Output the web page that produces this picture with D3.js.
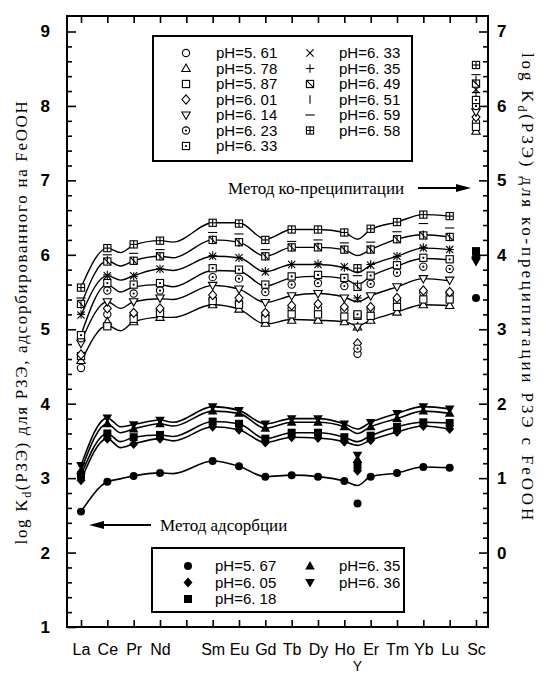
<!DOCTYPE html>
<html>
<head>
<meta charset="utf-8">
<script src="https://cdn.jsdelivr.net/npm/d3@7"></script>
<style>
  body { margin: 0; background: #fff; }
  svg { display: block; }
</style>
</head>
<body>
<svg id="chart" width="546" height="673"></svg>
<script>
// x axis: one tick per element, Pm has a tick but no label/data
const elements = ["La","Ce","Pr","Nd","Pm","Sm","Eu","Gd","Tb","Dy","Ho","Er","Tm","Yb","Lu","Sc"];
const elementLabels = ["La","Ce","Pr","Nd","","Sm","Eu","Gd","Tb","Dy","Ho","Er","Tm","Yb","Lu","Sc"];
// measured samples, Y sits half way between Ho and Er
const samples = ["La","Ce","Pr","Nd","Sm","Eu","Gd","Tb","Dy","Ho","Y","Er","Tm","Yb","Lu","Sc"];

const leftTicks = [1,2,3,4,5,6,7,8,9];
const rightTicks = [0,1,2,3,4,5,6,7];

// co-precipitation, log Kd on the right axis (open symbols)
const cop561 = [2.48,3.20,3.18,3.24,3.40,3.36,3.18,3.28,3.28,3.26,2.67,3.27,3.38,3.49,3.48,5.78];
const cop578 = [2.58,3.10,3.10,3.16,3.33,3.27,3.08,3.12,3.12,3.10,3.03,3.12,3.23,3.33,3.32,5.66];
const cop587 = [2.64,3.04,3.14,3.22,3.38,3.33,3.14,3.20,3.20,3.17,3.18,3.18,3.30,3.40,3.40,5.72];
const cop601 = [2.66,3.28,3.22,3.28,3.46,3.42,3.22,3.32,3.34,3.30,2.81,3.30,3.42,3.52,3.50,5.85];
const cop614 = [2.81,3.37,3.37,3.42,3.59,3.54,3.36,3.45,3.48,3.42,3.03,3.45,3.57,3.68,3.66,5.92];
const cop623 = [2.88,3.52,3.48,3.52,3.70,3.68,3.50,3.60,3.62,3.58,2.74,3.61,3.76,3.84,3.81,6.00];
const cop633a = [2.92,3.62,3.60,3.62,3.82,3.80,3.60,3.71,3.73,3.69,3.20,3.72,3.86,3.96,3.94,6.08];
const cop633b = [3.19,3.72,3.72,3.81,3.98,3.96,3.77,3.87,3.87,3.84,3.41,3.86,3.98,4.09,4.07,6.22];
const cop635 = [3.20,3.73,3.71,3.81,3.99,3.96,3.78,3.87,3.88,3.83,3.42,3.87,3.98,4.10,4.07,6.18];
const cop649 = [3.34,3.91,3.92,3.98,4.20,4.17,3.98,4.10,4.10,4.07,3.57,4.07,4.21,4.26,4.24,6.30];
const cop651 = [3.33,3.93,3.92,3.98,4.20,4.16,3.98,4.10,4.11,4.07,3.60,4.08,4.21,4.27,4.24,6.35];
const cop659 = [3.42,4.00,4.02,4.07,4.30,4.28,4.07,4.18,4.20,4.16,3.72,4.17,4.31,4.42,4.36,6.42];
const cop658 = [3.56,4.09,4.14,4.19,4.43,4.42,4.20,4.34,4.34,4.30,3.82,4.35,4.44,4.54,4.52,6.55];

// adsorption, log Kd on the left axis (filled symbols)
const ads567 = [2.55,2.95,3.03,3.07,3.23,3.16,3.02,3.04,3.02,2.96,2.66,3.02,3.07,3.15,3.14,5.42];
const ads605 = [2.97,3.53,3.46,3.53,3.69,3.65,3.48,3.55,3.54,3.49,3.10,3.51,3.62,3.70,3.66,5.97];
const ads618 = [3.04,3.60,3.55,3.58,3.76,3.73,3.53,3.61,3.61,3.55,3.17,3.57,3.69,3.75,3.74,6.05];
const ads635 = [3.10,3.73,3.66,3.73,3.90,3.87,3.67,3.75,3.75,3.69,3.25,3.69,3.80,3.90,3.87,6.01];
const ads636 = [3.17,3.81,3.72,3.78,3.96,3.91,3.73,3.80,3.80,3.73,3.31,3.75,3.87,3.96,3.93,5.91];

// hand drawn trend curves at these element positions
const curveAt = [0,1,1.5,2,3,3.5,5,6,7,8,9,10,10.5,11,12,13,14];
const copCurve1 = [2.56,3.05,2.98,3.10,3.16,3.16,3.33,3.27,3.07,3.13,3.12,3.10,3.05,3.12,3.23,3.33,3.32];
const copCurve2 = [2.83,3.37,3.28,3.37,3.41,3.40,3.59,3.54,3.36,3.45,3.48,3.43,3.37,3.45,3.57,3.68,3.65];
const copCurve3 = [2.92,3.60,3.50,3.57,3.60,3.57,3.79,3.78,3.58,3.69,3.71,3.68,3.60,3.71,3.85,3.95,3.93];
const copCurve4 = [3.19,3.72,3.66,3.72,3.81,3.79,3.98,3.96,3.77,3.87,3.87,3.83,3.76,3.86,3.98,4.09,4.07];
const copCurve5 = [3.33,3.92,3.85,3.92,3.98,3.96,4.20,4.17,3.98,4.10,4.10,4.07,3.99,4.07,4.21,4.27,4.24];
const copCurve6 = [3.56,4.09,4.03,4.13,4.19,4.17,4.43,4.43,4.21,4.34,4.34,4.30,4.21,4.34,4.44,4.54,4.52];
const adsCurve567 = [2.55,2.95,2.99,3.03,3.07,3.06,3.23,3.16,3.02,3.04,3.02,2.96,2.90,3.02,3.07,3.15,3.14];
const adsCurve605 = [2.97,3.53,3.41,3.46,3.53,3.50,3.69,3.65,3.48,3.55,3.54,3.49,3.44,3.51,3.62,3.70,3.66];
const adsCurve618 = [3.04,3.60,3.49,3.55,3.58,3.56,3.76,3.73,3.53,3.61,3.61,3.55,3.49,3.57,3.69,3.75,3.74];
const adsCurve635 = [3.10,3.73,3.61,3.66,3.73,3.70,3.90,3.87,3.67,3.75,3.75,3.69,3.60,3.69,3.80,3.90,3.87];
const adsCurve636 = [3.17,3.81,3.69,3.72,3.78,3.75,3.96,3.91,3.73,3.80,3.80,3.73,3.66,3.75,3.87,3.96,3.93];

const copSeries = [
  {label: "pH=5. 61", sym: "circle", values: cop561},
  {label: "pH=5. 78", sym: "triangle", values: cop578},
  {label: "pH=5. 87", sym: "square", values: cop587},
  {label: "pH=6. 01", sym: "diamond", values: cop601},
  {label: "pH=6. 14", sym: "triangleDown", values: cop614},
  {label: "pH=6. 23", sym: "circleDot", values: cop623},
  {label: "pH=6. 33", sym: "squareDot", values: cop633a},
  {label: "pH=6. 33", sym: "cross", values: cop633b},
  {label: "pH=6. 35", sym: "plus", values: cop635},
  {label: "pH=6. 49", sym: "squareSlash", values: cop649},
  {label: "pH=6. 51", sym: "vbar", values: cop651},
  {label: "pH=6. 59", sym: "hbar", values: cop659},
  {label: "pH=6. 58", sym: "squarePlus", values: cop658}
];
const adsSeries = [
  {label: "pH=5. 67", sym: "circleF", values: ads567, curve: adsCurve567},
  {label: "pH=6. 05", sym: "diamondF", values: ads605, curve: adsCurve605},
  {label: "pH=6. 18", sym: "squareF", values: ads618, curve: adsCurve618},
  {label: "pH=6. 35", sym: "triangleF", values: ads635, curve: adsCurve635},
  {label: "pH=6. 36", sym: "triangleDownF", values: ads636, curve: adsCurve636}
];
const copCurves = [copCurve1, copCurve2, copCurve3, copCurve4, copCurve5, copCurve6];

const svg = d3.select("#chart");
const frame = {left: 67, right: 488, top: 16, bottom: 627};

const x = d3.scaleLinear().domain([0, 15]).range([81, 476]);
const yL = d3.scaleLinear().domain([1, 9]).range([627, 31.5]);
const yR = d3.scaleLinear().domain([-1, 7]).range([627, 31.5]);

function pos(name) { return name === "Y" ? 10.5 : elements.indexOf(name); }

function drawSymbol(g, type) {
  const s = 3.6;
  const ln = (x1, y1, x2, y2) => g.append("line")
    .attr("x1", x1).attr("y1", y1).attr("x2", x2).attr("y2", y2)
    .attr("stroke", "#000").attr("stroke-width", 1.1);
  const box = () => g.append("rect").attr("x", -s).attr("y", -s)
    .attr("width", 2 * s).attr("height", 2 * s)
    .attr("fill", "#fff").attr("stroke", "#000").attr("stroke-width", 1.1);
  const open = (d) => g.append("path").attr("d", d)
    .attr("fill", "#fff").attr("stroke", "#000").attr("stroke-width", 1.1);
  const solid = (d) => g.append("path").attr("d", d).attr("fill", "#000");
  switch (type) {
    case "circle": open(d3.symbol(d3.symbolCircle, 42)()); break;
    case "circleDot":
      open(d3.symbol(d3.symbolCircle, 42)());
      g.append("circle").attr("r", 1.1).attr("fill", "#000"); break;
    case "triangle": open("M0,-4.4L4.2,3L-4.2,3Z"); break;
    case "triangleDown": open("M0,4.4L4.2,-3L-4.2,-3Z"); break;
    case "diamond": open("M0,-4.6L4,0L0,4.6L-4,0Z"); break;
    case "square": box(); break;
    case "squareDot": box(); g.append("circle").attr("r", 1.1).attr("fill", "#000"); break;
    case "squareSlash": box(); ln(-s, -s, s, s); break;
    case "squarePlus": box(); ln(-s, 0, s, 0); ln(0, -s, 0, s); break;
    case "cross": ln(-3.6, -3.6, 3.6, 3.6); ln(-3.6, 3.6, 3.6, -3.6); break;
    case "plus": ln(-4.2, 0, 4.2, 0); ln(0, -4.2, 0, 4.2); break;
    case "vbar": ln(0, -4.2, 0, 4.2); break;
    case "hbar": ln(-4.6, 0, 4.6, 0); break;
    case "circleF": solid(d3.symbol(d3.symbolCircle, 50)()); break;
    case "diamondF": solid("M0,-5L4.5,0L0,5L-4.5,0Z"); break;
    case "squareF": solid("M-4,-4H4V4H-4Z"); break;
    case "triangleF": solid("M0,-5L4.8,3.4L-4.8,3.4Z"); break;
    case "triangleDownF": solid("M0,5L4.8,-3.4L-4.8,-3.4Z"); break;
  }
}

// --- axes ---------------------------------------------------------------
const tickFont = "'Liberation Sans', Arial, sans-serif";

function styleAxis(g) {
  g.select(".domain").remove();
  g.selectAll(".tick line").attr("stroke", "#000").attr("stroke-width", 1.6);
  g.selectAll(".tick text").attr("fill", "#000")
    .style("font-family", tickFont).style("font-size", "17px").style("font-weight", "bold");
}

const minorL = d3.range(10, 92, 2).map(v => v / 10).filter(v => v % 1 !== 0);

svg.append("g").attr("transform", `translate(${frame.left},0)`)
  .call(d3.axisLeft(yL).tickValues(minorL).tickSize(-5).tickFormat(""))
  .call(styleAxis);
svg.append("g").attr("transform", `translate(${frame.left},0)`)
  .call(d3.axisLeft(yL).tickValues(leftTicks).tickSize(-9).tickPadding(17).tickFormat(d3.format("d")))
  .call(styleAxis);

const minorR = minorL.map(v => v - 2);
svg.append("g").attr("transform", `translate(${frame.right},0)`)
  .call(d3.axisRight(yR).tickValues(minorR).tickSize(-5).tickFormat(""))
  .call(styleAxis);
svg.append("g").attr("transform", `translate(${frame.right},0)`)
  .call(d3.axisRight(yR).tickValues(rightTicks).tickSize(-9).tickPadding(9).tickFormat(d3.format("d")))
  .call(styleAxis);

svg.append("g").attr("transform", `translate(0,${frame.bottom})`)
  .call(d3.axisBottom(x).tickValues(d3.range(elements.length)).tickSize(-7).tickPadding(17)
    .tickFormat(i => elementLabels[i]))
  .call(styleAxis)
  .call(g => g.selectAll(".tick text").style("font-weight", "normal").style("font-size", "16px"));

svg.append("g").attr("transform", `translate(0,${frame.top})`)
  .call(d3.axisTop(x).tickValues(d3.range(elements.length)).tickSize(-7).tickFormat(""))
  .call(styleAxis);

svg.append("text")
  .attr("x", x(pos("Y"))).attr("y", 671)
  .attr("text-anchor", "middle")
  .style("font-family", tickFont).style("font-size", "14px")
  .text("Y");

svg.append("rect")
  .attr("x", frame.left).attr("y", frame.top)
  .attr("width", frame.right - frame.left).attr("height", frame.bottom - frame.top)
  .attr("fill", "none").attr("stroke", "#000").attr("stroke-width", 2);

// axis titles (Cyrillic in the original is set wide, so stretch to the measured span)
const serif = "'Liberation Serif', 'Times New Roman', serif";
function axisTitle(tx, ty, rot, rest, span) {
  const t = svg.append("text")
    .attr("transform", `translate(${tx},${ty}) rotate(${rot})`)
    .attr("text-anchor", "middle")
    .style("font-family", serif).style("font-size", "17px");
  t.append("tspan").text("log K");
  t.append("tspan").attr("dy", 4).style("font-size", "12px").text("d");
  t.append("tspan").attr("dy", -4).text(rest);
  const natural = t.node().getComputedTextLength();
  const chars = ("log Kd" + rest).length;
  t.style("letter-spacing", ((span - natural) / chars) + "px");
}
axisTitle(27, 322, -90, "(РЗЭ) для РЗЭ, адсорбированного на FeOOH", 445);
axisTitle(522, 288, 90, "(РЗЭ) для ко-преципитации РЗЭ с FeOOH", 470);

// --- curves -------------------------------------------------------------
const lineR = d3.line().x((d, i) => x(curveAt[i])).y(d => yR(d)).curve(d3.curveMonotoneX);
const lineL = d3.line().x((d, i) => x(curveAt[i])).y(d => yL(d)).curve(d3.curveMonotoneX);

svg.append("g").selectAll("path").data(copCurves).join("path")
  .attr("d", lineR).attr("fill", "none").attr("stroke", "#000").attr("stroke-width", 1.4);
svg.append("g").selectAll("path").data(adsSeries).join("path")
  .attr("d", s => lineL(s.curve)).attr("fill", "none").attr("stroke", "#000").attr("stroke-width", 1.6);

// --- points -------------------------------------------------------------
function plotPoints(series, yScale) {
  series.forEach(s => {
    svg.append("g").selectAll("g").data(s.values).join("g")
      .attr("transform", (v, i) => `translate(${x(pos(samples[i]))},${yScale(v)})`)
      .each(function () { drawSymbol(d3.select(this), s.sym); });
  });
}
plotPoints(copSeries, yR);
plotPoints(adsSeries, yL);

// --- annotations --------------------------------------------------------
function arrow(x1, x2, yy) {
  const dir = Math.sign(x2 - x1);
  svg.append("line").attr("x1", x1).attr("x2", x2 - dir * 12).attr("y1", yy).attr("y2", yy)
    .attr("stroke", "#000").attr("stroke-width", 2);
  svg.append("path")
    .attr("d", `M${x2},${yy}L${x2 - dir * 15},${yy - 4}L${x2 - dir * 15},${yy + 4}Z`)
    .attr("fill", "#000");
}
svg.append("text").attr("x", 228).attr("y", 194)
  .style("font-family", serif).style("font-size", "17px").text("Метод ко-преципитации");
arrow(418, 471, 188);
svg.append("text").attr("x", 160).attr("y", 531)
  .style("font-family", serif).style("font-size", "17px").text("Метод адсорбции");
arrow(151, 89, 525);

// --- legends ------------------------------------------------------------
function legend(series, box, rowsPerCol, rowH, firstRow, cols) {
  svg.append("rect").attr("x", box.x).attr("y", box.y).attr("width", box.w).attr("height", box.h)
    .attr("fill", "#fff").attr("stroke", "#000").attr("stroke-width", 2);
  series.forEach((s, i) => {
    const c = i < rowsPerCol ? 0 : 1;
    const r = c === 0 ? i : i - rowsPerCol;
    const yy = firstRow + r * rowH;
    const g = svg.append("g").attr("transform", `translate(${cols[c].sym},${yy})`);
    drawSymbol(g, s.sym);
    svg.append("text").attr("x", cols[c].text).attr("y", yy).attr("dy", "0.36em")
      .style("font-family", tickFont).style("font-size", "15px").text(s.label);
  });
}
legend(copSeries, {x: 153, y: 36, w: 259, h: 125}, 7, 15.5, 53,
  [{sym: 186, text: 216}, {sym: 310, text: 339}]);
legend(adsSeries, {x: 152, y: 548, w: 252, h: 64}, 3, 16.5, 566,
  [{sym: 188, text: 215}, {sym: 310, text: 339}]);
</script>
</body>
</html>
